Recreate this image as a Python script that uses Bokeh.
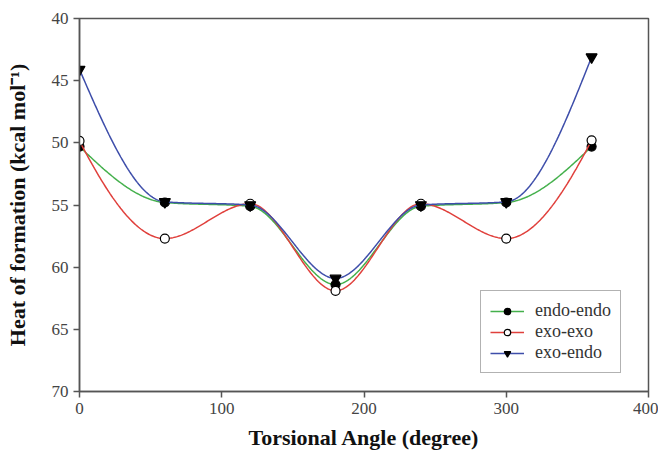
import numpy as np
from bokeh.plotting import figure
from bokeh.models import Range1d, FixedTicker, Legend, LegendItem
from bokeh.embed import file_html
from bokeh.resources import INLINE

angles = [0, 60, 120, 180, 240, 300, 360]
endo_endo = [50.3, 54.8, 55.1, 61.4, 55.1, 54.8, 50.3]
exo_exo = [49.85, 57.7, 54.9, 61.9, 54.9, 57.7, 49.8]
exo_endo = [44.1, 54.75, 55.0, 60.9, 55.0, 54.75, 43.1]

x_ticks = [0, 100, 200, 300, 400]
y_ticks = [40, 45, 50, 55, 60, 65, 70]


def pchip_curve(x, y, n=400):
    """Smooth monotone cubic (Fritsch-Carlson) curve through the data points."""
    x = np.asarray(x, float)
    y = np.asarray(y, float)
    h = np.diff(x)
    delta = np.diff(y) / h
    m = len(x)
    d = np.zeros(m)
    for k in range(1, m - 1):
        if delta[k - 1] * delta[k] > 0:
            w1 = 2 * h[k] + h[k - 1]
            w2 = h[k] + 2 * h[k - 1]
            d[k] = (w1 + w2) / (w1 / delta[k - 1] + w2 / delta[k])
        else:
            d[k] = 0.0

    def end_slope(h0, h1, d0, d1):
        s = ((2 * h0 + h1) * d0 - h0 * d1) / (h0 + h1)
        if np.sign(s) != np.sign(d0):
            s = 0.0
        elif np.sign(d0) != np.sign(d1) and abs(s) > abs(3 * d0):
            s = 3 * d0
        return s

    d[0] = end_slope(h[0], h[1], delta[0], delta[1])
    d[-1] = end_slope(h[-1], h[-2], delta[-1], delta[-2])

    xs = np.linspace(x[0], x[-1], n)
    idx = np.clip(np.searchsorted(x, xs) - 1, 0, m - 2)
    hh = h[idx]
    t = (xs - x[idx]) / hh
    h00 = 2 * t ** 3 - 3 * t ** 2 + 1
    h10 = t ** 3 - 2 * t ** 2 + t
    h01 = -2 * t ** 3 + 3 * t ** 2
    h11 = t ** 3 - t ** 2
    ys = h00 * y[idx] + h10 * hh * d[idx] + h01 * y[idx + 1] + h11 * hh * d[idx + 1]
    return xs, ys


p = figure(width=658, height=452, output_backend="svg", toolbar_location=None,
           x_range=Range1d(0, 400), y_range=Range1d(70, 40),
           min_border_left=79, min_border_top=18, min_border_right=10, min_border_bottom=59)

p.xgrid.visible = False
p.ygrid.visible = False
p.outline_line_color = "#555555"
p.outline_line_width = 1.5
p.background_fill_color = "white"
p.border_fill_color = "white"

for ax in (p.xaxis[0], p.yaxis[0]):
    ax.axis_line_color = "#555555"
    ax.axis_line_width = 1.5
    ax.major_tick_line_color = "#555555"
    ax.major_tick_line_width = 1.5
    ax.major_tick_out = 6
    ax.major_tick_in = 0
    ax.minor_tick_line_color = None
    ax.major_label_text_font = "Liberation Serif"
    ax.major_label_text_font_size = "17px"
    ax.major_label_text_color = "#444444"
    ax.axis_label_text_font = "Liberation Serif"
    ax.axis_label_text_font_style = "bold"
    ax.axis_label_text_font_size = "22px"
    ax.axis_label_text_color = "#111111"

p.xaxis.ticker = FixedTicker(ticks=x_ticks)
p.yaxis.ticker = FixedTicker(ticks=y_ticks)
p.xaxis.axis_label = "Torsional Angle (degree)"
p.yaxis.axis_label = "Heat of formation (kcal mol\u207b\u00b9)"
p.xaxis.major_label_standoff = 5
p.xaxis.axis_label_standoff = 8
p.yaxis.major_label_standoff = 5
p.yaxis.axis_label_standoff = 19

series = [
    ("endo-endo", endo_endo, "#44B04C", "circle", "black", 9),
    ("exo-exo", exo_exo, "#E0403C", "circle", "white", 9),
    ("exo-endo", exo_endo, "#3E4EAA", "inverted_triangle", "black", 11),
]

items = []
for name, ys, color, marker, fill, size in series:
    sx, sy = pchip_curve(angles, ys)
    ln = p.line(sx, sy, line_color=color, line_width=1.5)
    sc = p.scatter(angles, ys, marker=marker, size=size, fill_color=fill,
                   line_color="black", line_width=1.2)
    items.append(LegendItem(label=name, renderers=[ln, sc]))

legend = Legend(items=items, location=(401, 18))
legend.label_text_font = "Liberation Serif"
legend.label_text_font_size = "18px"
legend.label_text_color = "#333333"
legend.border_line_color = "#666666"
legend.border_line_width = 1.2
legend.glyph_width = 34
legend.glyph_height = 16
legend.label_height = 16
legend.spacing = -3
legend.padding = 9
legend.margin = 0
legend.label_standoff = 11
legend.background_fill_alpha = 1
p.add_layout(legend, "center")

open("out.html", "w").write(file_html(p, INLINE))
